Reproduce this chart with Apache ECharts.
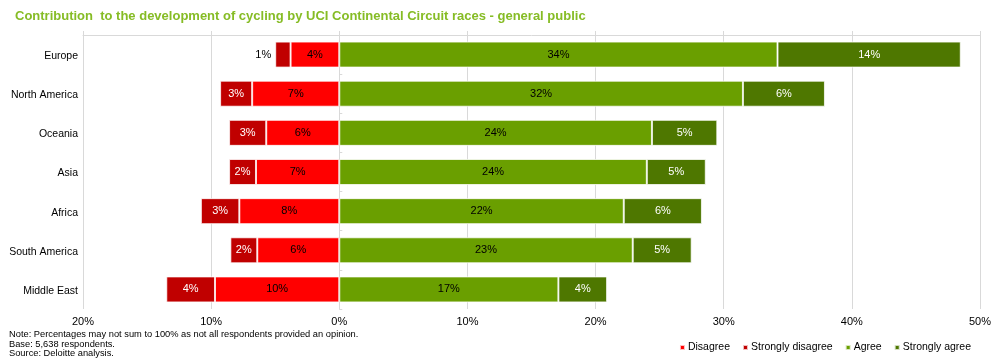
<!DOCTYPE html>
<html>
<head>
<meta charset="utf-8">
<script src="https://cdn.jsdelivr.net/npm/echarts@6/dist/echarts.min.js"></script>
<style>html,body{margin:0;padding:0;background:#fff}#chart{width:994px;height:363px}</style>
</head>
<body>
<div id="chart"></div>
<script>
const categories = ['Europe', 'North America', 'Oceania', 'Asia', 'Africa', 'South America', 'Middle East'];
const disagree = [3.8, 6.8, 5.7, 6.5, 7.8, 6.4, 9.7];
const stronglyDisagree = [1.2, 2.5, 2.9, 2.1, 3.0, 2.1, 3.8];
const agree = [34.2, 31.5, 24.4, 24.0, 22.2, 22.9, 17.1];
const stronglyAgree = [14.3, 6.4, 5.1, 4.6, 6.1, 4.6, 3.8];
const xTicks = [-20, -10, 0, 10, 20, 30, 40, 50];
const titleText = 'Contribution  to the development of cycling by UCI Continental Circuit races - general public';
const notes = ['Note: Percentages may not sum to 100% as not all respondents provided an opinion.', 'Base: 5,638 respondents.', 'Source: Deloitte analysis.'];

const FONT = 'Liberation Sans, Arial, sans-serif';
const yCats = categories.slice().reverse();
function rev(a) { return a.slice().reverse(); }

function makeSeries(name, values, negative, color, labelColor) {
  return {
    name: name,
    type: 'bar',
    stack: 'total',
    barWidth: 26,
    itemStyle: { color: color, borderColor: 'rgba(255,255,255,0.75)', borderWidth: 1 },
    label: {
      show: true,
      position: 'inside',
      color: labelColor,
      fontSize: 11,
      fontFamily: FONT,
      textBorderWidth: 0,
      formatter: p => Math.round(Math.abs(p.value)) + '%'
    },
    data: rev(values).map(v => {
      const val = negative ? -v : v;
      if (Math.abs(v) < 1.5) {
        return { value: val, label: { position: negative ? 'left' : 'right', color: '#000', distance: 4 } };
      }
      return val;
    })
  };
}

const chart = echarts.init(document.getElementById('chart'), null, { renderer: 'canvas' });
chart.setOption({
  animation: false,
  textStyle: { fontFamily: FONT },
  title: {
    text: titleText,
    left: 10, top: 5,
    textStyle: { color: '#86BC25', fontSize: 13, fontWeight: 'bold', fontFamily: FONT }
  },
  grid: { left: 83, right: 12, top: 35, bottom: 54 },
  legend: {
    right: 18, top: 337,
    itemWidth: 5, itemHeight: 5, itemGap: 12,
    icon: 'rect',
    textStyle: { fontSize: 10.5, color: '#000', fontFamily: FONT, padding: [0, 0, 0, -2] },
    data: ['Disagree', 'Strongly disagree', 'Agree', 'Strongly agree']
  },
  xAxis: [{
    type: 'value', min: xTicks[0], max: xTicks[xTicks.length - 1], interval: 10,
    axisLine: { show: false }, axisTick: { show: false },
    axisLabel: { fontSize: 11, color: '#000', margin: 7, formatter: v => Math.abs(v) + '%' },
    splitLine: { show: true, lineStyle: { color: '#d9d9d9', width: 1 } }
  }, {
    type: 'value', position: 'top', min: xTicks[0], max: xTicks[xTicks.length - 1], interval: 10,
    axisLine: { show: true, lineStyle: { color: '#d9d9d9' } },
    axisTick: { show: true, length: 4, lineStyle: { color: '#d9d9d9' } },
    axisLabel: { show: false }, splitLine: { show: false }
  }],
  yAxis: [{
    type: 'category', data: yCats,
    axisLine: { show: false }, axisTick: { show: false },
    axisLabel: { fontSize: 10.5, color: '#000', margin: 5, verticalAlign: 'top', padding: [-4, 0, 0, 0] }
  }, {
    type: 'category', data: yCats, position: 'right',
    axisLine: { show: true, lineStyle: { color: '#d9d9d9' } },
    axisTick: { show: true, length: 3, lineStyle: { color: '#d9d9d9' } },
    axisLabel: { show: false }
  }],
  series: [
    makeSeries('Disagree', disagree, true, '#FF0000', '#000'),
    makeSeries('Strongly disagree', stronglyDisagree, true, '#C00000', '#fff'),
    makeSeries('Agree', agree, false, '#6A9F00', '#000'),
    makeSeries('Strongly agree', stronglyAgree, false, '#4E7700', '#fff')
  ],
  graphic: notes.map((t, i) => ({
    type: 'text', left: 9, top: 330 + i * 9.6,
    style: { text: t, fontSize: 9.3, fill: '#000', fontFamily: FONT }
  }))
});
</script>
</body>
</html>
